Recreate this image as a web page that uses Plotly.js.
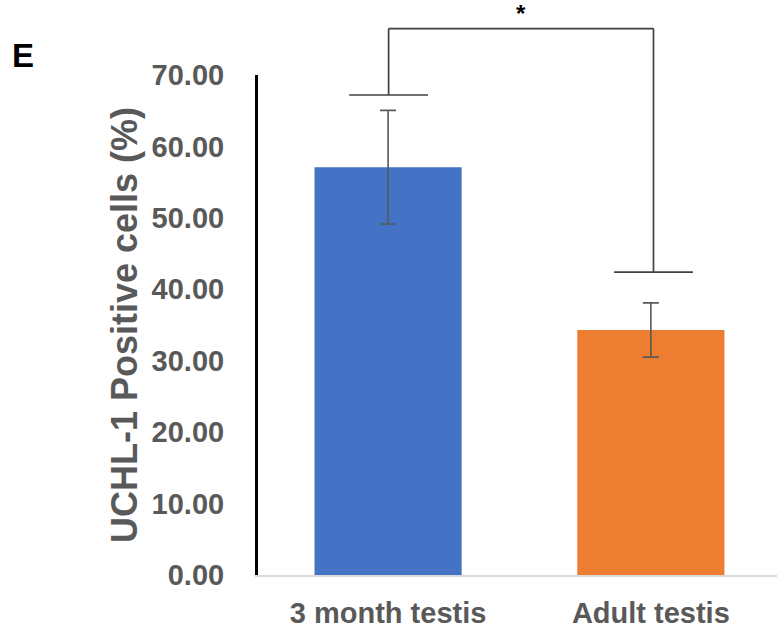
<!DOCTYPE html>
<html>
<head>
<meta charset="utf-8">
<script src="https://cdn.plot.ly/plotly-3.0.1.min.js"></script>
<style>html,body{margin:0;padding:0;background:#fff;}#chart{width:777px;height:634px;}</style>
</head>
<body>
<div id="chart"></div>
<script>
// Data
const categories = ['3 month testis', 'Adult testis'];
const values = [57.1, 34.3];
const errors = [7.95, 3.8];
const barColors = ['#4472C4', '#ED7D31'];
const yTickVals = [0, 10, 20, 30, 40, 50, 60, 70];
const yTickText = ['0.00', '10.00', '20.00', '30.00', '40.00', '50.00', '60.00', '70.00'];
// Significance bracket: cap levels above each bar, top level, and label
const bracketCaps = [67.2, 42.4];
const bracketTop = 76.5;
const sigLabel = '*';
const panelLabel = 'E';
const yTitle = 'UCHL-1 Positive cells (%)';

const yMax = 70;
const toPaper = v => v / yMax;
const grey = '#595959';
const bracketColor = '#404040';
const capHalf = 0.15;
const legX = [0.002, 1.01];

const shapes = [];
categories.forEach((c, i) => {
  shapes.push({type: 'line', xref: 'x', yref: 'paper', x0: legX[i] - capHalf, x1: legX[i] + capHalf,
    y0: toPaper(bracketCaps[i]), y1: toPaper(bracketCaps[i]), line: {color: bracketColor, width: 1.7}});
  shapes.push({type: 'line', xref: 'x', yref: 'paper', x0: legX[i], x1: legX[i],
    y0: toPaper(bracketCaps[i]), y1: toPaper(bracketTop), line: {color: bracketColor, width: 1.7}});
});
shapes.push({type: 'line', xref: 'x', yref: 'paper', x0: legX[0], x1: legX[1],
  y0: toPaper(bracketTop), y1: toPaper(bracketTop), line: {color: bracketColor, width: 1.7}});

const trace = {
  type: 'bar',
  x: categories,
  y: values,
  marker: {color: barColors},
  width: 0.56,
  error_y: {type: 'data', array: errors, visible: true, color: grey, thickness: 1.6, width: 8},
  hoverinfo: 'none'
};

const tickFont = {family: '"Liberation Sans", Arial, sans-serif', size: 29, color: grey, weight: 'bold'};

const layout = {
  width: 777, height: 634,
  margin: {l: 258, r: 0, t: 75, b: 59, pad: 0},
  paper_bgcolor: '#fff', plot_bgcolor: '#fff',
  showlegend: false,
  xaxis: {
    type: 'category',
    range: [-0.495, 1.48],
    showgrid: false, zeroline: false,
    showline: true, linecolor: '#d9d9d9', linewidth: 1.5,
    ticks: '', tickfont: tickFont, ticklabelstandoff: 12
  },
  yaxis: {
    range: [0, yMax],
    tickvals: yTickVals, ticktext: yTickText,
    showgrid: false, zeroline: false,
    showline: true, linecolor: '#000', linewidth: 3,
    ticks: '', tickfont: tickFont, ticklabelstandoff: 25,
    title: {text: yTitle, font: {family: '"Liberation Sans", Arial, sans-serif', size: 36, color: grey, weight: 'bold'}, standoff: 4}
  },
  shapes: shapes,
  annotations: [
    {xref: 'x', yref: 'paper', x: (legX[0] + legX[1]) / 2, y: toPaper(78.6), text: sigLabel, showarrow: false,
      font: {family: '"Liberation Sans", Arial, sans-serif', size: 24, color: '#000', weight: 'bold'}, xanchor: 'center', yanchor: 'middle'},
    {xref: 'paper', yref: 'paper', x: -248 / 519, y: toPaper(72.7), text: panelLabel, showarrow: false,
      font: {family: '"Liberation Sans", Arial, sans-serif', size: 33, color: '#000', weight: 'bold'}, xanchor: 'left', yanchor: 'middle'}
  ]
};

Plotly.newPlot('chart', [trace], layout, {displayModeBar: false, staticPlot: true});
</script>
</body>
</html>
